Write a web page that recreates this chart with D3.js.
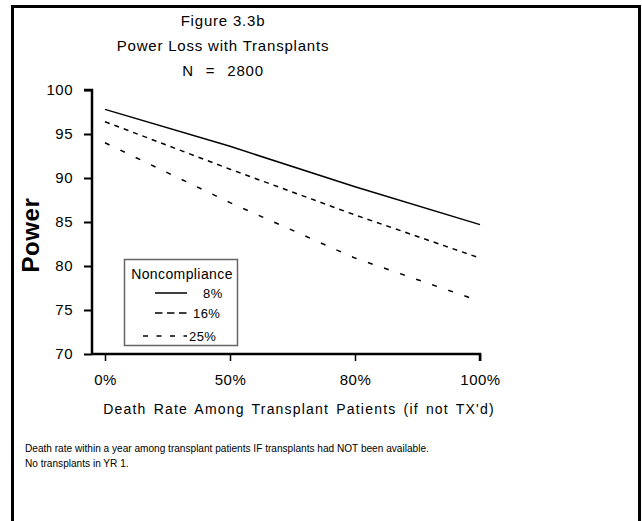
<!DOCTYPE html>
<html><head><meta charset="utf-8">
<script src="https://cdn.jsdelivr.net/npm/d3@7"></script>
<style>
html,body{margin:0;padding:0;background:#fff;}
text{font-family:"Liberation Sans",Arial,Helvetica,sans-serif;fill:#000;}
</style></head>
<body>
<svg id="c" width="642" height="521"></svg>
<script>
const categories = ["0%", "50%", "80%", "100%"];
const seriesNames = ["8%", "16%", "25%"];
const power8 = [97.8, 93.6, 89.0, 84.7];
const power16 = [96.4, 91.0, 85.8, 80.9];
const power25 = [94.0, 87.2, 80.9, 76.0];
const yTicks = [70, 75, 80, 85, 90, 95, 100];
const titles = ["Figure 3.3b", "Power Loss with Transplants", "N = 2800"];
const xTitle = "Death Rate Among Transplant Patients (if not TX'd)";
const yTitle = "Power";
const legendTitle = "Noncompliance";
const notes = ["Death rate within a year among transplant patients IF transplants had NOT been available.",
               "No transplants in YR 1."];

const series = [
  {name: seriesNames[0], values: power8, dash: null},
  {name: seriesNames[1], values: power16, dash: "5,5"},
  {name: seriesNames[2], values: power25, dash: "5,12"}
];
const legendDash = [null, "7.5,4.5", "5,8.5"];

const svg = d3.select("#c");
// frame
svg.append("path").attr("d", "M12.5,521 V6.5 H639.5 V521")
  .attr("fill", "none").attr("stroke", "#000").attr("stroke-width", 3);

const x = d3.scalePoint().domain(categories).range([105, 480]);
const y = d3.scaleLinear().domain([70, 100]).range([354, 90]);

// titles
const tY = [26, 51, 76];
const tWS = [0, 0, 7];
titles.forEach((t, i) => {
  svg.append("text").attr("x", 223).attr("y", tY[i]).attr("text-anchor", "middle")
    .attr("font-size", 15).attr("letter-spacing", 0.8).attr("word-spacing", tWS[i]).text(t);
});

// y axis
const yAxis = d3.axisLeft(y).tickValues(yTicks).tickSize(8).tickPadding(11);
const gy = svg.append("g").attr("transform", "translate(92,0)").call(yAxis);
gy.select(".domain").attr("stroke-width", 2.5).attr("d", "M-8,90H0V354");
gy.selectAll(".tick line").attr("stroke-width", 2);
gy.selectAll(".tick text").attr("font-size", 15).attr("font-family", "Liberation Sans, Arial, sans-serif").attr("letter-spacing", 0.5);

// x axis
const xAxis = d3.axisBottom(x).tickSize(7).tickPadding(13);
const gx = svg.append("g").attr("transform", "translate(0,354)").call(xAxis);
gx.select(".domain").attr("stroke-width", 2.5).attr("d", "M92,0H480V7");
gx.selectAll(".tick line").attr("stroke-width", 1.5);
gx.selectAll(".tick text").attr("font-size", 15).attr("font-family", "Liberation Sans, Arial, sans-serif").attr("letter-spacing", 0.5);

// axis titles
svg.append("text").attr("x", 299).attr("y", 414).attr("text-anchor", "middle")
  .attr("font-size", 14).attr("letter-spacing", 1.2).attr("word-spacing", 2).text(xTitle);
svg.append("text").attr("transform", "translate(39,235) rotate(-90)").attr("text-anchor", "middle")
  .attr("font-size", 24).attr("font-weight", "bold").attr("letter-spacing", 0.6).text(yTitle);

// lines
const line = d3.line().x((d, i) => x(categories[i])).y(d => y(d));
series.forEach(s => {
  svg.append("path").datum(s.values).attr("d", line)
    .attr("fill", "none").attr("stroke", "#000").attr("stroke-width", 1.5)
    .attr("stroke-dasharray", s.dash);
});

// legend
const lg = svg.append("g");
lg.append("rect").attr("x", 124.5).attr("y", 259.5).attr("width", 113).attr("height", 86)
  .attr("fill", "#fff").attr("stroke", "#666").attr("stroke-width", 1.5);
lg.append("text").attr("x", 182).attr("y", 279).attr("text-anchor", "middle")
  .attr("font-size", 14).attr("letter-spacing", 0.4).text(legendTitle);
const rowY = [293, 313, 336];
const lineStart = [155, 155, 143];
const labelX = [203, 193, 189];
series.forEach((s, i) => {
  lg.append("line").attr("x1", lineStart[i]).attr("x2", 187).attr("y1", rowY[i]).attr("y2", rowY[i])
    .attr("stroke", "#000").attr("stroke-width", 1.5).attr("stroke-dasharray", legendDash[i]);
  lg.append("text").attr("x", labelX[i]).attr("y", rowY[i] + 5)
    .attr("font-size", 13).attr("letter-spacing", 0.4).text(s.name);
});

// notes
notes.forEach((n, i) => {
  svg.append("text").attr("x", 25).attr("y", 452 + i * 15).attr("font-size", 10.1)
    .text(n);
});
</script>
</body></html>
